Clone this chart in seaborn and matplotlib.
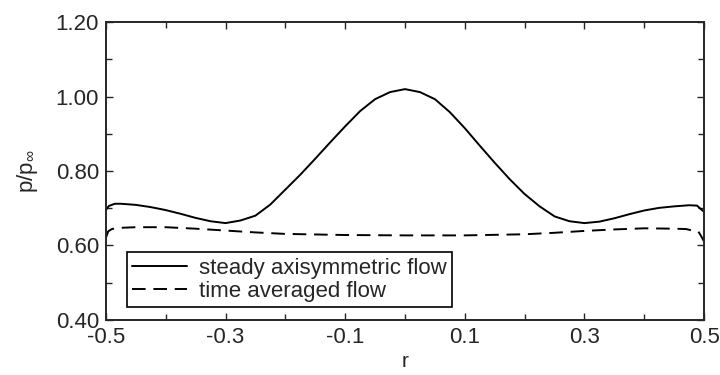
import matplotlib
matplotlib.use("Agg")
import matplotlib.pyplot as plt
import seaborn as sns
import pandas as pd
from matplotlib.ticker import FixedLocator, FormatStrFormatter, MultipleLocator

r_steady = [-0.5, -0.495, -0.485, -0.475, -0.45, -0.425, -0.4, -0.375, -0.35, -0.325,
            -0.3, -0.275, -0.25, -0.225, -0.2, -0.175, -0.15, -0.125, -0.1, -0.075,
            -0.05, -0.025, 0.0, 0.025, 0.05, 0.075, 0.1, 0.125, 0.15, 0.175,
            0.2, 0.225, 0.25, 0.275, 0.3, 0.325, 0.35, 0.375, 0.4, 0.425,
            0.45, 0.475, 0.488, 0.495, 0.5]
p_steady = [0.695, 0.706, 0.712, 0.712, 0.709, 0.703, 0.695, 0.685, 0.674, 0.665,
            0.660, 0.667, 0.680, 0.710, 0.750, 0.790, 0.833, 0.877, 0.920, 0.961,
            0.993, 1.012, 1.020, 1.012, 0.993, 0.958, 0.915, 0.868, 0.822, 0.778,
            0.738, 0.705, 0.678, 0.665, 0.660, 0.664, 0.673, 0.684, 0.694, 0.701,
            0.705, 0.708, 0.707, 0.697, 0.690]

r_avg = [-0.5, -0.496, -0.49, -0.48, -0.45, -0.4, -0.35, -0.3, -0.25, -0.2,
         -0.1, 0.0, 0.1, 0.2, 0.25, 0.3, 0.35, 0.4, 0.45, 0.47,
         0.48, 0.49, 0.495, 0.5]
p_avg = [0.620, 0.638, 0.644, 0.647, 0.649, 0.649, 0.645, 0.640, 0.635, 0.631,
         0.628, 0.627, 0.627, 0.630, 0.634, 0.639, 0.643, 0.646, 0.645, 0.644,
         0.640, 0.638, 0.625, 0.610]

labels = ["steady axisymmetric flow", "time averaged flow"]
x_major = [-0.5, -0.3, -0.1, 0.1, 0.3, 0.5]
x_minor = [-0.4, -0.2, 0.0, 0.2, 0.4]

df = pd.concat([
    pd.DataFrame({"r": r_steady, "p": p_steady, "case": labels[0]}),
    pd.DataFrame({"r": r_avg, "p": p_avg, "case": labels[1]}),
])

sns.set_style("ticks")
plt.rcParams["font.family"] = ["Liberation Sans", "DejaVu Sans"]
plt.rcParams["mathtext.fontset"] = "custom"
plt.rcParams["mathtext.rm"] = "Liberation Sans"
plt.rcParams["mathtext.it"] = "Liberation Sans"

fig = plt.figure(figsize=(7.2, 3.75), dpi=100)
ax = fig.add_axes([0.147, 0.147, 0.831, 0.794])

sns.lineplot(data=df, x="r", y="p", hue="case", style="case",
             palette=["black", "black"], dashes={labels[0]: "", labels[1]: (7, 4)},
             linewidth=1.4, ax=ax, sort=False, estimator=None)

ax.set_xlim(-0.5, 0.5)
ax.set_ylim(0.4, 1.2)
ax.xaxis.set_major_locator(FixedLocator(x_major))
ax.xaxis.set_minor_locator(FixedLocator(x_minor))
ax.yaxis.set_major_locator(MultipleLocator(0.2))
ax.yaxis.set_minor_locator(MultipleLocator(0.1))
ax.xaxis.set_major_formatter(FormatStrFormatter("%.1f"))
ax.yaxis.set_major_formatter(FormatStrFormatter("%.2f"))
ax.tick_params(which="both", direction="in", top=True, right=True, width=1.0)
ax.tick_params(which="major", length=5, labelsize=16, pad=5)
ax.tick_params(which="minor", length=4)
for s in ax.spines.values():
    s.set_linewidth(1.4)
    s.set_visible(True)

ax.set_xlabel("r", fontsize=15, labelpad=3)
ax.set_ylabel(r"p/p$_{\infty}$", fontsize=16, labelpad=11)

leg = ax.legend(loc="lower left", bbox_to_anchor=(0.035, 0.042), fontsize=16,
                frameon=True, fancybox=False, edgecolor="black", framealpha=1,
                handlelength=2.45, borderpad=0.25, labelspacing=0.1, handletextpad=0.55,
                borderaxespad=0)
leg.get_frame().set_linewidth(1.2)

fig.savefig("out.png", dpi=100)
